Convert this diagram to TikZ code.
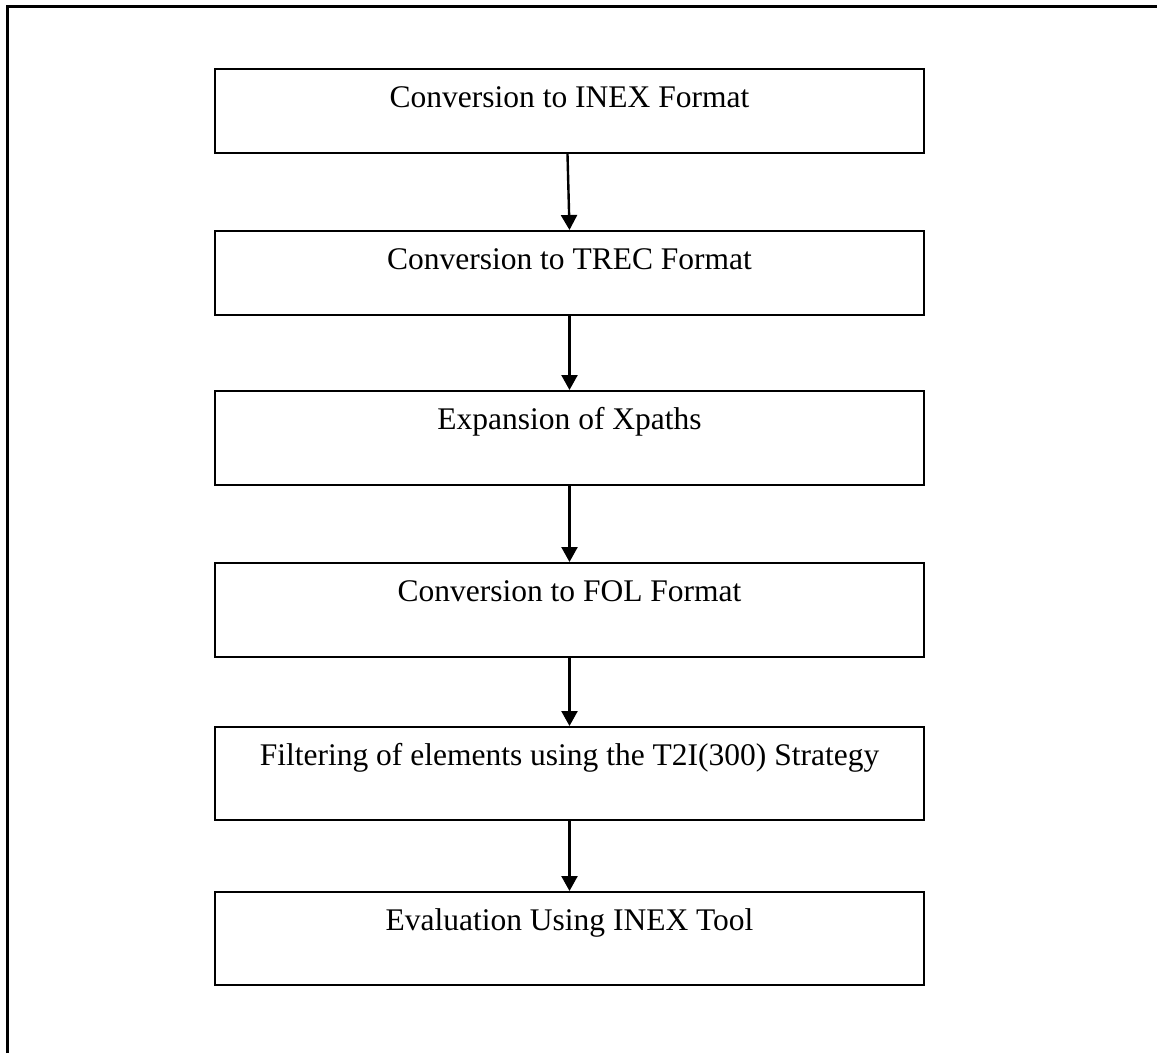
\documentclass[tikz,border=0pt]{standalone}
\usepackage{fontspec}
\setmainfont{Liberation Serif}
\usetikzlibrary{arrows.meta}
\begin{document}
\begin{tikzpicture}[x=1pt,y=-1pt,
  stepbox/.style={draw=black, line width=2.2pt, inner sep=0pt, minimum width=709pt,
    text height=38pt, anchor=north, font=\fontsize{31.5}{38}\selectfont},
  flow/.style={line width=2.4pt, -{Triangle[length=15pt,width=16pt]}},
  frame/.style={line width=3pt}]
\useasboundingbox (0,0) rectangle (1157,1053);
\draw[frame] (7.5,1053) -- (7.5,6.5) -- (1157,6.5);
\node[stepbox, text depth=46pt] (b1) at (569.5,68) {Conversion to INEX Format};
\node[stepbox, text depth=46pt] (b2) at (569.5,230) {Conversion to TREC Format};
\node[stepbox, text depth=56pt] (b3) at (569.5,390) {Expansion of Xpaths};
\node[stepbox, text depth=56pt] (b4) at (569.5,562) {Conversion to FOL Format};
\node[stepbox, text depth=55pt] (b5) at (569.5,726) {Filtering of elements using the T2I(300) Strategy};
\node[stepbox, text depth=55pt] (b6) at (569.5,891) {Evaluation Using INEX Tool};
\draw[flow] ([xshift=-2pt]b1.south) -- (b2.north);
\draw[flow] (b2.south) -- (b3.north);
\draw[flow] (b3.south) -- (b4.north);
\draw[flow] (b4.south) -- (b5.north);
\draw[flow] (b5.south) -- (b6.north);
\end{tikzpicture}
\end{document}
